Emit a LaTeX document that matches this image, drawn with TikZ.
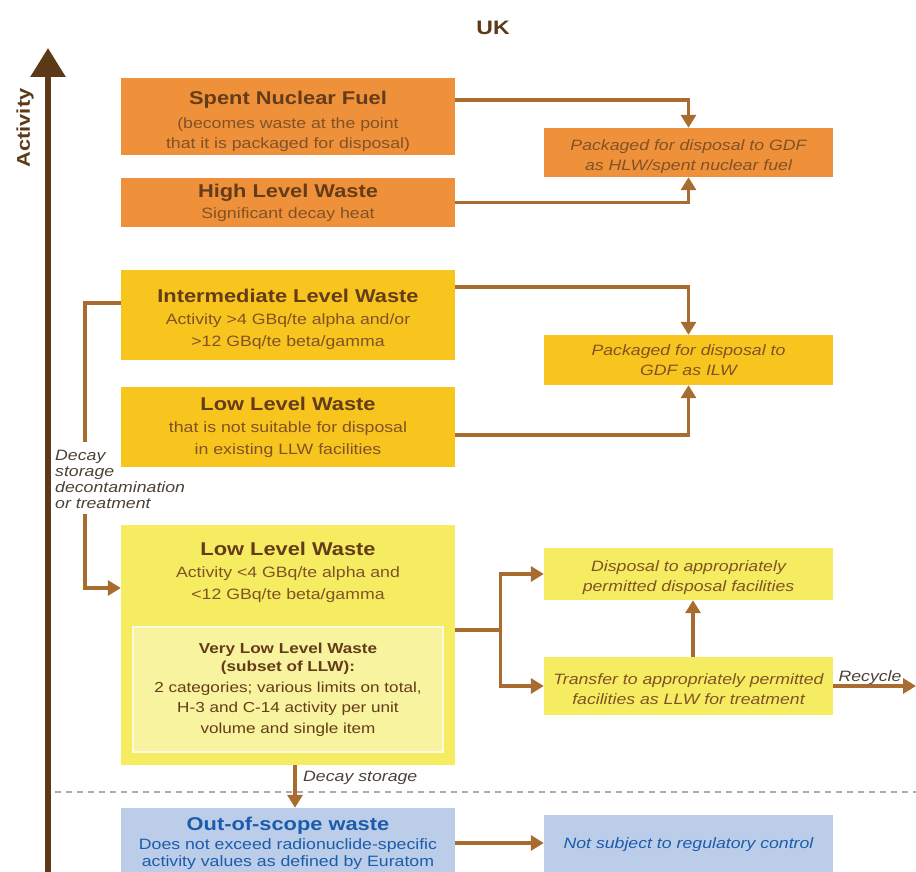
\documentclass[tikz,border=0pt]{standalone}
\usepackage{fontspec}
\setmainfont{Liberation Sans}[FakeStretch=1.18]
\usetikzlibrary{arrows.meta}
\definecolor{orng}{RGB}{239,145,58}
\definecolor{gold}{RGB}{247,197,30}
\definecolor{lyel}{RGB}{245,236,98}
\definecolor{vyel}{RGB}{248,243,158}
\definecolor{vbord}{RGB}{252,250,222}
\definecolor{lblue}{RGB}{187,205,232}
\definecolor{dbrown}{RGB}{92,58,24}
\definecolor{tbrown}{RGB}{100,60,25}
\definecolor{sbrown}{RGB}{130,82,38}
\definecolor{connc}{RGB}{168,108,48}
\definecolor{tblue}{RGB}{28,92,172}
\definecolor{lblc}{RGB}{75,65,55}
\newcommand{\ttl}[1]{{\bfseries\fontsize{18.5}{22}\selectfont\color{tbrown}#1}}
\newcommand{\ttlblue}[1]{{\bfseries\fontsize{18.5}{22}\selectfont\color{tblue}#1}}
\newcommand{\strt}[1]{\rule{0pt}{#1}}
\begin{document}
\begin{tikzpicture}[x=1pt,y=-1pt,
  box/.style={rectangle, inner sep=0pt, align=center, text=sbrown,
    font=\fontsize{15}{22}\selectfont},
  wide/.style={minimum width=334pt},
  right box/.style={minimum width=289pt, font=\itshape\fontsize{15}{20}\selectfont},
  conn/.style={draw=connc, line width=3.2pt, -{Triangle[width=15pt,length=13pt]}},
  plain/.style={draw=connc, line width=3.2pt},
  lbl/.style={inner sep=0pt, text=lblc, font=\itshape\fontsize{15}{16}\selectfont}]
\useasboundingbox (0,0) rectangle (916,872);

% title and axis
\node[font=\bfseries\fontsize{19.5}{22}\selectfont, text=dbrown] (uk) at (493,28) {UK};
\node[rotate=90, font=\bfseries\fontsize{18.5}{22}\selectfont, text=dbrown] (act) at (25,128) {Activity};
\coordinate (abot) at (48,880);
\coordinate (atop) at (48,48);
\draw[line width=6pt, draw=dbrown, -{Triangle[width=34pt,length=29pt]}] (abot) -- (atop);

% dashed boundary
\coordinate (dl) at (55,792);
\coordinate (dr) at (916,792);
\draw[gray!65, line width=1.2pt, dash pattern=on 6pt off 5pt] (dl) -- (dr);

% left column
\node[box, wide, fill=orng, minimum height=77pt] (snf) at (288,116.5)
  {\strt{23.5pt}\ttl{Spent Nuclear Fuel}\\[2pt] (becomes waste at the point\\[-2pt] that it is packaged for disposal)};
\node[box, wide, fill=orng, minimum height=49pt] (hlw) at (288,202.5)
  {\ttl{High Level Waste}\\[-1pt] Significant decay heat};
\node[box, wide, fill=gold, minimum height=90pt] (ilw) at (288,315)
  {\strt{22.5pt}\ttl{Intermediate Level Waste}\\ Activity >4 GBq/te alpha and/or\\ >12 GBq/te beta/gamma};
\node[box, wide, fill=gold, minimum height=80pt] (llwns) at (288,427)
  {\ttl{Low Level Waste}\\ that is not suitable for disposal\\ in existing LLW facilities};
\node[box, wide, fill=lyel, minimum height=240pt] (llw) at (288,645) {};
\node[box] (llwt) at (288,572)
  {\ttl{Low Level Waste}\\ Activity <4 GBq/te alpha and\\ <12 GBq/te beta/gamma};
\node[box, fill=vyel, draw=vbord, line width=2pt, minimum width=310pt, minimum height=125pt,
  font=\fontsize{14.5}{20.5}\selectfont, text=tbrown] (vllw) at (288,689.5)
  {\textbf{Very Low Level Waste}\\[-2pt] \textbf{(subset of LLW):}\\ 2 categories; various limits on total,\\ H-3 and C-14 activity per unit\\ volume and single item};
\node[box, wide, fill=lblue, minimum height=64pt, text=tblue, font=\fontsize{15}{17}\selectfont] (oos) at (288,840)
  {\strt{20pt}\ttlblue{Out-of-scope waste}\\[2pt] Does not exceed radionuclide-specific\\ activity values as defined by Euratom};

% right column
\node[box, right box, fill=orng, minimum height=49pt] (phlw) at (688.5,152.5)
  {\strt{19pt}Packaged for disposal to GDF\\ as HLW/spent nuclear fuel};
\node[box, right box, fill=gold, minimum height=50pt] (pilw) at (688.5,360)
  {Packaged for disposal to\\ GDF as ILW};
\node[box, right box, fill=lyel, minimum height=52pt] (disp) at (688.5,574)
  {\strt{19pt}Disposal to appropriately\\ permitted disposal facilities};
\node[box, right box, fill=lyel, minimum height=58pt] (trans) at (688.5,686)
  {\strt{17pt}Transfer to appropriately permitted\\ facilities as LLW for treatment};
\node[box, right box, fill=lblue, minimum height=57pt, text=tblue] (nsc) at (688.5,843.5)
  {\strt{14pt}Not subject to regulatory control};

% connectors
\draw[conn] ([yshift=16.5pt]snf.east) -| (phlw.north);
\draw[conn] (hlw.east) -| (phlw.south);
\draw[conn] ([yshift=28pt]ilw.east) -| (pilw.north);
\draw[conn] ([yshift=-8pt]llwns.east) -| (pilw.south);

\node[lbl, align=left, anchor=north west] (declbl) at (55,450)
  {Decay\\storage\\decontamination\\or treatment};
\coordinate (dtop) at (85,442);
\coordinate (dbot) at (85,514);
\draw[plain] ([yshift=12pt]ilw.west) -| (dtop);
\draw[conn] (dbot) |- ([yshift=57pt]llw.west);

\coordinate (br) at ([xshift=45pt,yshift=15pt]llw.east);
\draw[plain] ([yshift=15pt]llw.east) -- (br);
\draw[conn] (br) |- (disp.west);
\draw[conn] (br) |- (trans.west);
\draw[conn] ([xshift=4.5pt]trans.north) -- ([xshift=4.5pt]disp.south);
\coordinate (recend) at (916,686);
\draw[conn] (trans.east) -- (recend);
\node[lbl] (rec) at (870,678) {Recycle};

\draw[conn] ([xshift=7pt]llw.south) -- ([xshift=7pt]llw.south |- oos.north);
\node[lbl, anchor=west] (dslbl) at (303,778) {Decay storage};
\draw[conn] ([yshift=-3pt]oos.east) -- ([yshift=-3pt]oos.east -| nsc.west);
\end{tikzpicture}
\end{document}
